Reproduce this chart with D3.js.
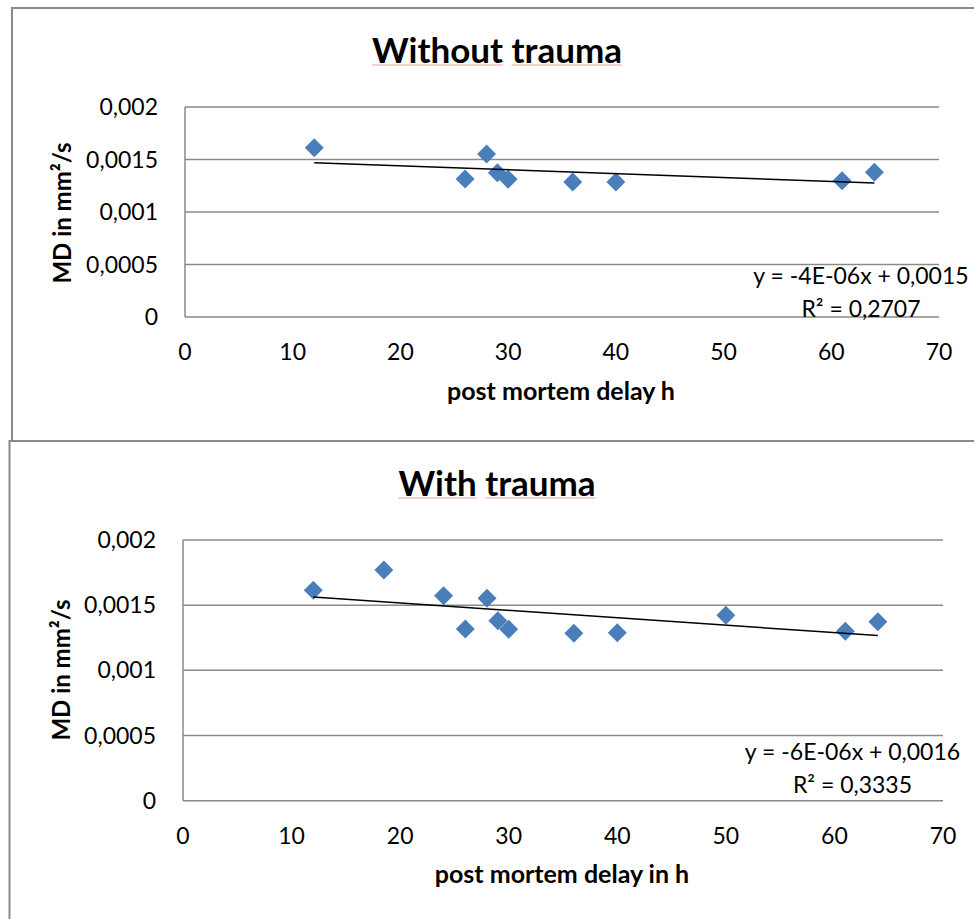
<!DOCTYPE html>
<html>
<head>
<meta charset="utf-8">
<script src="https://cdn.jsdelivr.net/npm/d3@7"></script>
<style>
  body { margin: 0; background: #fff; }
  svg { display: block; font-family: Lato, "Open Sans", sans-serif; }
</style>
</head>
<body>
<div id="chart"></div>
<script>
// data
const topHours = [12, 26, 28, 29, 30, 36, 40, 61, 64];
const topMD = [0.001612, 0.001314, 0.001552, 0.001374, 0.001311, 0.001286, 0.001286, 0.001298, 0.001378];
const bottomHours = [12, 18.5, 24, 26, 28, 29, 30, 36, 40, 50, 61, 64];
const bottomMD = [0.001614, 0.00177, 0.001573, 0.001317, 0.001553, 0.001381, 0.001315, 0.001284, 0.001289, 0.001422, 0.0013, 0.001373];

const titles = ["Without trauma", "With trauma"];
const xTitles = ["post mortem delay h", "post mortem delay in h"];
const yTitle = "MD in mm²/s";
const equations = [["y = -4E-06x + 0,0015", "R² = 0,2707"], ["y = -6E-06x + 0,0016", "R² = 0,3335"]];
const xTicks = [0, 10, 20, 30, 40, 50, 60, 70];
const yTicks = [0, 0.0005, 0.001, 0.0015, 0.002];

const W = 974, H = 919;
const gray = "#8a8a8a";
const blue = "#4a7ebb";

const svg = d3.select("#chart").append("svg")
  .attr("width", W)
  .attr("height", H);

svg.append("rect").attr("width", W).attr("height", H).attr("fill", "#fff");

// chart frames
svg.append("rect")
  .attr("x", 12).attr("y", 8).attr("width", 1000).attr("height", 433)
  .attr("fill", "none").attr("stroke", gray).attr("stroke-width", 2);
svg.append("rect")
  .attr("x", 9.5).attr("y", 441).attr("width", 1000).attr("height", 600)
  .attr("fill", "none").attr("stroke", gray).attr("stroke-width", 2);

const fmt = d => String(d).replace(".", ",");

function fitLine(xs, ys) {
  const mx = d3.mean(xs), my = d3.mean(ys);
  let sxy = 0, sxx = 0;
  xs.forEach((x, i) => { sxy += (x - mx) * (ys[i] - my); sxx += (x - mx) * (x - mx); });
  const b = sxy / sxx;
  return x => my + b * (x - mx);
}

function drawChart(c) {
  const x = d3.scaleLinear().domain([0, 70]).range([c.left, c.right]);
  const y = d3.scaleLinear().domain([0, 0.002]).range([c.bottom, c.top]);

  // title with spellcheck squiggle
  const t = svg.append("text")
    .attr("x", c.titleX).attr("y", c.titleY)
    .attr("text-anchor", "middle")
    .attr("font-size", 35).attr("font-weight", 700)
    .text(c.title);
  const node = t.node();
  let start = 0;
  c.title.split(" ").forEach(w => {
    const x0 = node.getStartPositionOfChar(start).x;
    const x1 = node.getEndPositionOfChar(start + w.length - 1).x;
    svg.append("line")
      .attr("x1", x0).attr("x2", x1)
      .attr("y1", c.titleY + 2).attr("y2", c.titleY + 2)
      .attr("stroke", "#f2a0a0").attr("stroke-width", 1);
    start += w.length + 1;
  });

  // gridlines
  svg.append("g").selectAll("line")
    .data(yTicks)
    .join("line")
    .attr("x1", c.left).attr("x2", c.right)
    .attr("y1", d => y(d)).attr("y2", d => y(d))
    .attr("stroke", gray).attr("stroke-width", 1.5);

  // y axis line
  svg.append("line")
    .attr("x1", c.left).attr("x2", c.left)
    .attr("y1", c.top).attr("y2", c.bottom)
    .attr("stroke", gray).attr("stroke-width", 1.5);

  svg.append("g").selectAll("text")
    .data(yTicks)
    .join("text")
    .attr("x", c.left - 27)
    .attr("y", d => y(d))
    .attr("dy", "0.35em")
    .attr("text-anchor", "end")
    .attr("font-size", 23)
    .text(fmt);

  svg.append("g").selectAll("text")
    .data(xTicks)
    .join("text")
    .attr("x", d => x(d))
    .attr("y", c.bottom + 43)
    .attr("text-anchor", "middle")
    .attr("font-size", 23)
    .text(d => d);

  // axis titles
  svg.append("text")
    .attr("x", c.xTitleX).attr("y", c.xTitleY)
    .attr("text-anchor", "middle")
    .attr("font-size", 25).attr("font-weight", 700)
    .text(c.xTitle);

  svg.append("text")
    .attr("transform", `translate(${c.yTitleX},${c.yTitleY}) rotate(-90)`)
    .attr("text-anchor", "middle")
    .attr("font-size", 24).attr("font-weight", 700)
    .text(yTitle);

  // points
  const pts = c.hours.map((h, i) => ({h: h, v: c.md[i]}));
  svg.append("g").selectAll("path")
    .data(pts)
    .join("path")
    .attr("d", d3.symbol(d3.symbolSquare).size(180))
    .attr("transform", d => `translate(${x(d.h)},${y(d.v)}) rotate(45)`)
    .attr("fill", blue);

  // linear trend line
  const f = fitLine(c.hours, c.md);
  const x0 = d3.min(c.hours), x1 = d3.max(c.hours);
  svg.append("line")
    .attr("x1", x(x0)).attr("y1", y(f(x0)))
    .attr("x2", x(x1)).attr("y2", y(f(x1)))
    .attr("stroke", "#000").attr("stroke-width", 1.5);

  svg.append("g").selectAll("text")
    .data(c.eq)
    .join("text")
    .attr("x", c.eqX)
    .attr("y", (d, i) => c.eqY[i])
    .attr("text-anchor", "middle")
    .attr("font-size", 23)
    .text(d => d);
}

drawChart({
  left: 185, right: 939, top: 107, bottom: 317,
  hours: topHours, md: topMD,
  title: titles[0], titleX: 497, titleY: 63,
  xTitle: xTitles[0], xTitleX: 561, xTitleY: 400,
  yTitleX: 71, yTitleY: 213,
  eq: equations[0], eqX: 861, eqY: [284, 317]
});

drawChart({
  left: 183, right: 943, top: 540, bottom: 800.7,
  hours: bottomHours, md: bottomMD,
  title: titles[1], titleX: 497, titleY: 496,
  xTitle: xTitles[1], xTitleX: 562, xTitleY: 883,
  yTitleX: 70, yTitleY: 670,
  eq: equations[1], eqX: 852.5, eqY: [760, 793]
});
</script>
</body>
</html>
